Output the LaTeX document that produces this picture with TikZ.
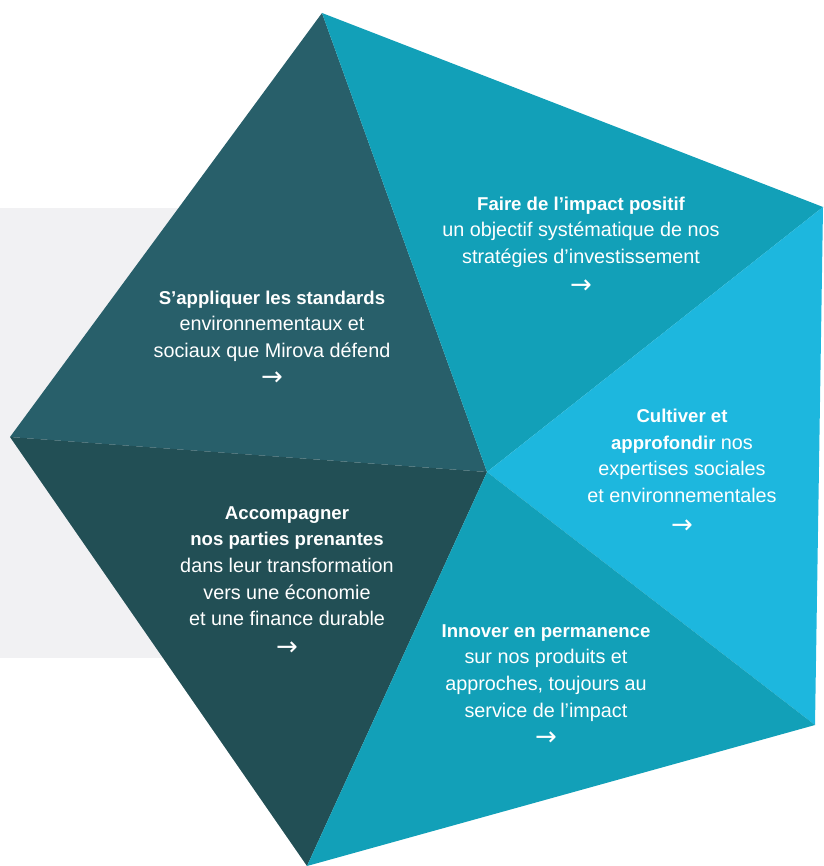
\documentclass[tikz,border=0pt]{standalone}
\usepackage{fontspec}
\setmainfont{Liberation Sans}
\newfontfamily\arrowfont{DejaVu Sans}
\definecolor{tealdark}{HTML}{285F6A}
\definecolor{tealdeep}{HTML}{224F55}
\definecolor{tealmid}{HTML}{12A0B8}
\definecolor{tealsky}{HTML}{1DB7DE}
\definecolor{bggray}{HTML}{F1F1F3}
\newcommand{\hd}[1]{{\fontsize{18.6}{26.7}\selectfont\bfseries #1}}
\newcommand{\go}{{\arrowfont\fontsize{26}{26.7}\selectfont →}}

\begin{document}
\begin{tikzpicture}[x=1pt,y=-1pt,
    blurb/.style={text=white,align=center,inner sep=0pt,
      font=\fontsize{19.8}{26.7}\selectfont}]
        \useasboundingbox (0,0) rectangle (823,866);
        % background
        \fill[bggray] (0,208) rectangle (300,658);
        % corners
        \coordinate (top) at (322,13);
        \coordinate (righttop) at (823,207);
        \coordinate (rightbot) at (815,725);
        \coordinate (bottom) at (307,866);
        \coordinate (left) at (10,437);
        \coordinate (centre) at (487,472);
        % triangles
        \fill[tealdark] (top) -- (left) -- (centre) -- cycle;
        \fill[tealdeep] (left) -- (bottom) -- (centre) -- cycle;
        \fill[tealmid] (top) -- (righttop) -- (centre) -- cycle;
        \fill[tealsky] (righttop) -- (rightbot) -- (centre) -- cycle;
        \fill[tealmid] (rightbot) -- (bottom) -- (centre) -- cycle;
        % text
        \node[blurb] (standards) at (272,338) {\hd{S’appliquer les standards}\\environnementaux et\\sociaux que Mirova défend\\[1pt]\go};
        \node[blurb] (impact) at (581,245) {\hd{Faire de l’impact positif}\\un objectif systématique de nos\\stratégies d’investissement\\[3pt]\go};
        \node[blurb] (expertise) at (682,471) {\hd{Cultiver et}\\\hd{approfondir} nos\\expertises sociales\\et environnementales\\[4pt]\go};
        \node[blurb] (partners) at (287,581) {\hd{Accompagner}\\\hd{nos parties prenantes}\\dans leur transformation\\vers une économie\\et une finance durable\\[3pt]\go};
        \node[blurb] (innovate) at (546,685) {\hd{Innover en permanence}\\sur nos produits et\\approches, toujours au\\service de l’impact\\[2pt]\go};
\end{tikzpicture}
\end{document}
